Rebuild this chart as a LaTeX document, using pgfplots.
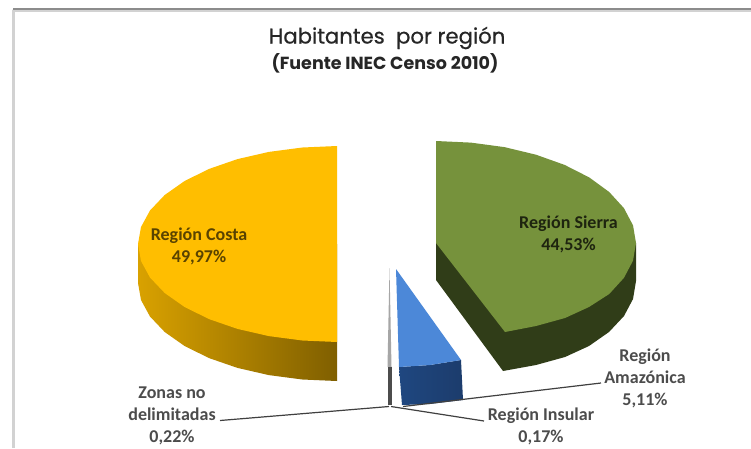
\documentclass[border=0pt]{standalone}
\usepackage{fontspec}
\setmainfont{Carlito}
\newfontfamily\titlefont[FakeBold=0.6]{Poppins}
\newfontfamily\subfont{Poppins}
\usepackage{pgfplots}
\pgfplotsset{compat=1.18}

\definecolor{costa}{HTML}{FFBE00}
\definecolor{sierra}{HTML}{76923C}
\definecolor{sierrad}{HTML}{303D18}
\definecolor{insular}{HTML}{4C88D8}
\definecolor{insulard}{HTML}{1F4780}
\definecolor{insulardd}{HTML}{1C3C6C}
\definecolor{leader}{HTML}{404040}

\begin{document}
\begin{tikzpicture}
\begin{axis}[
    scale only axis,
    x=1pt, y=1pt,
    xmin=0, xmax=751,
    ymin=0, ymax=448,
    y dir=reverse,
    hide axis,
    clip=true,
    every axis plot/.append style={no markers, line join=round},
]
% frame
\addplot[draw=none, fill=white] coordinates {(0,0)(751,0)(751,448)(0,448)} -- cycle;
\addplot[color=gray!35, line width=3pt] coordinates {(13,448)(13,10)(751,10)};
\addplot[color=gray!90, line width=1.6pt] coordinates {(13,9)(751,9)};

% region costa: side, then top
\addplot[draw=none, left color=costa!85!black, right color=costa!50!black] coordinates {
    (138,244)(138,283)(141,300)(150,316.5)(164.7,332)(184.6,346)(209.1,358.1)
    (237.5,367.9)(268.9,375.1)(302.4,379.5)(337,381)(337,244)} -- cycle;
\addplot[draw=none, fill=costa] coordinates {
    (337,146)(302.4,147.5)(268.9,151.9)(237.5,159.1)(209.1,168.9)(184.6,181)
    (164.7,195)(150,210.5)(141,227)(138,244)(141,261)(150,277.5)(164.7,293)
    (184.6,307)(209.1,319.1)(237.5,328.9)(268.9,336.1)(302.4,340.5)(337,342)} -- cycle;

% region sierra
\addplot[draw=none, fill=sierrad] coordinates {
    (436,243)(436,280)(503,371)(536,365)(565,357)(589,346)(609,332)(624,316)
    (633,299)(636,281)(636,243)} -- cycle;
\addplot[draw=none, fill=sierra] coordinates {
    (436,243)(436,141)(470.7,142.6)(504.4,147.1)(536,154.7)(564.6,164.9)
    (589.2,177.4)(609.2,192)(623.9,208.1)(633,225.3)(636,243)(633,260.7)
    (623.9,277.9)(609.2,294)(589,307)(565,318)(536,326)(505,332)} -- cycle;

% region amazonica
\addplot[draw=none, left color=insulard, right color=insulardd] coordinates {
    (399,367)(430,365)(461,360)(463,400)(430,404)(402,405)} -- cycle;
\addplot[draw=none, fill=insular] coordinates {
    (396,269)(461,360)(430,365)(399,367)} -- cycle;

% zonas no delimitadas / insular
\addplot[draw=none, fill=gray!70] coordinates {(389.5,268)(391.5,367)(387.5,367)} -- cycle;
\addplot[draw=none, fill=black!70] coordinates {(387.5,367)(391.5,367)(391.5,405)(387.5,405)} -- cycle;

% leaders
\addplot[color=leader, line width=1.2pt] coordinates {(220,420.5)(389,406.5)};
\addplot[color=leader, line width=1.2pt] coordinates {(391,406.5)(484,421)};
\addplot[color=leader, line width=1.2pt] coordinates {(403,406.5)(601,383)};

% title
\node[font=\titlefont\fontsize{21.2}{24}\selectfont, text=black!85] at (axis cs:387,38) {Habitantes\ \ por región};
\node[font=\subfont\bfseries\fontsize{17.5}{20}\selectfont, text=black!85] at (axis cs:385,63) {(Fuente INEC Censo 2010)};

% labels
\begin{scope}[every node/.style={font=\bfseries\fontsize{18}{22}\selectfont, align=center, inner sep=0pt}]
\node[text=costa!35!black] at (axis cs:199,246) {Región Costa\\49,97\%};
\node[text=sierra!25!black] at (axis cs:568.5,234) {Región Sierra\\44,53\%};
\node[text=black!70] at (axis cs:645,378) {Región\\Amazónica\\5,11\%};
\node[text=black!70] at (axis cs:172,416) {Zonas no\\delimitadas\\0,22\%};
\node[text=black!70] at (axis cs:541,426.5) {Región Insular\\0,17\%};
\end{scope}
\end{axis}
\end{tikzpicture}
\end{document}
